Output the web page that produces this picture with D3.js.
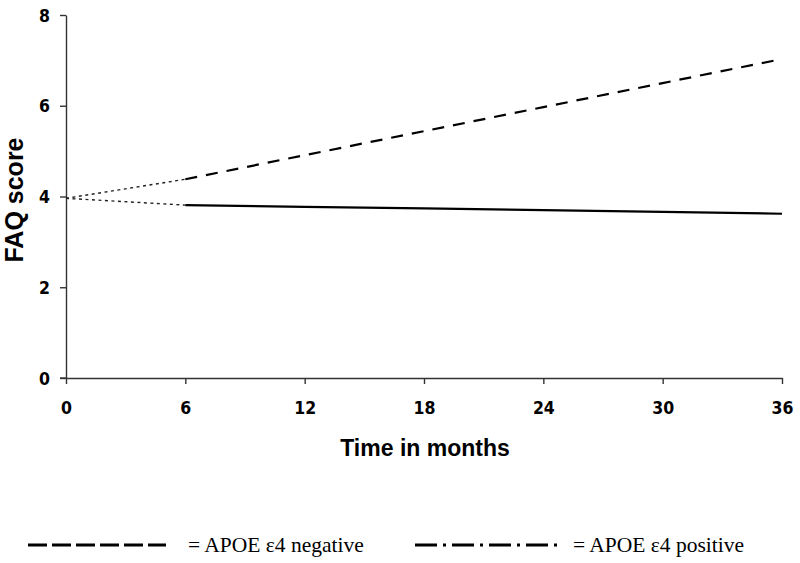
<!DOCTYPE html>
<html>
<head>
<meta charset="utf-8">
<script src="https://cdn.jsdelivr.net/npm/d3@7"></script>
<style>
html,body{margin:0;padding:0;background:#fff;}
svg{display:block;}
</style>
</head>
<body>
<svg id="chart" width="800" height="563"></svg>
<script>
// Data
const months = [0, 6, 12, 18, 24, 30, 36];
const baseline = 3.96;
const negativeValues = [4.38, 4.91, 5.44, 5.97, 6.50, 7.03];   // months 6..36
const positiveValues = [3.81, 3.77, 3.74, 3.70, 3.66, 3.62];   // months 6..36
const yTicks = [0, 2, 4, 6, 8];
const xTicks = [0, 6, 12, 18, 24, 30, 36];
const legendLabels = ["= APOE \u03B54 negative", "= APOE \u03B54 positive"];

const svg = d3.select("#chart");
const x = d3.scaleLinear().domain([0, 36]).range([66, 782]);
const y = d3.scaleLinear().domain([0, 8]).range([378, 15]);

const tickFont = "'DejaVu Sans Condensed','Arial Narrow','Liberation Sans',Arial,sans-serif";

// Y axis
const yAxis = svg.append("g").attr("transform", `translate(${x(0)},0)`)
  .call(d3.axisLeft(y).tickValues(yTicks).tickSize(6).tickSizeOuter(0).tickPadding(10));
yAxis.select(".domain").attr("stroke", "#333").attr("stroke-width", 1.4);
yAxis.selectAll(".tick line").attr("stroke", "#333").attr("stroke-width", 1.4);
yAxis.selectAll(".tick text").attr("font-family", tickFont).attr("font-weight", "bold")
  .attr("font-size", 17.5).attr("fill", "#000").attr("dy", "0.35em");

// X axis
const xAxis = svg.append("g").attr("transform", `translate(0,${y(0)})`)
  .call(d3.axisBottom(x).tickValues(xTicks).tickSize(6).tickSizeOuter(0).tickPadding(18));
xAxis.select(".domain").attr("stroke", "#333").attr("stroke-width", 1.4);
xAxis.selectAll(".tick line").attr("stroke", "#333").attr("stroke-width", 1.4);
xAxis.selectAll(".tick text").attr("font-family", tickFont).attr("font-weight", "bold")
  .attr("font-size", 17.5).attr("fill", "#000");
// extend x axis line to the left under y tick
svg.append("line").attr("x1", x(0) - 6).attr("x2", x(0)).attr("y1", y(0)).attr("y2", y(0))
  .attr("stroke", "#333").attr("stroke-width", 1.4);

// Lines
const line = d3.line().x(d => x(d[0])).y(d => y(d[1]));
const negPts = negativeValues.map((v, i) => [months[i + 1], v]);
const posPts = positiveValues.map((v, i) => [months[i + 1], v]);

// dotted initial segments
svg.append("path").datum([[0, baseline], negPts[0]]).attr("d", line)
  .attr("fill", "none").attr("stroke", "#222").attr("stroke-width", 1.4).attr("stroke-dasharray", "3,3.5");
svg.append("path").datum([[0, baseline], posPts[0]]).attr("d", line)
  .attr("fill", "none").attr("stroke", "#222").attr("stroke-width", 1.4).attr("stroke-dasharray", "3,3.5");

svg.append("path").datum(negPts).attr("d", line)
  .attr("fill", "none").attr("stroke", "#000").attr("stroke-width", 2.2).attr("stroke-dasharray", "12,9");
svg.append("path").datum(posPts).attr("d", line)
  .attr("fill", "none").attr("stroke", "#000").attr("stroke-width", 2.2);

// Axis titles
svg.append("text").attr("x", 425).attr("y", 456).attr("text-anchor", "middle")
  .attr("font-family", "'Liberation Sans',Arial,sans-serif").attr("font-weight", "bold")
  .attr("font-size", 23).text("Time in months");
svg.append("text").attr("transform", "translate(23,200) rotate(-90)").attr("text-anchor", "middle")
  .attr("font-family", "'Liberation Sans',Arial,sans-serif").attr("font-weight", "bold")
  .attr("font-size", 25).text("FAQ score");

// Legend
const lg = svg.append("g");
lg.append("line").attr("x1", 28).attr("x2", 166).attr("y1", 545).attr("y2", 545)
  .attr("stroke", "#000").attr("stroke-width", 3).attr("stroke-dasharray", "19,5");
lg.append("line").attr("x1", 415).attr("x2", 557).attr("y1", 545).attr("y2", 545)
  .attr("stroke", "#000").attr("stroke-width", 3).attr("stroke-dasharray", "22,6,3,6");
lg.append("text").attr("x", 188).attr("y", 552)
  .attr("font-family", "'Liberation Serif','Times New Roman',serif").attr("font-size", 21.5)
  .text(legendLabels[0]);
lg.append("text").attr("x", 573).attr("y", 552)
  .attr("font-family", "'Liberation Serif','Times New Roman',serif").attr("font-size", 21.5)
  .text(legendLabels[1]);
</script>
</body>
</html>
